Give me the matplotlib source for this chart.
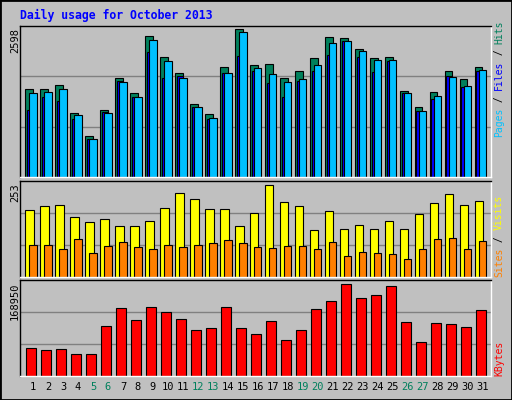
import matplotlib
matplotlib.use("Agg")
import matplotlib.pyplot as plt
from matplotlib.patches import Rectangle

days = list(range(1, 32))
weekend = [5, 6, 12, 13, 19, 20, 26, 27]

hits = [1540, 1540, 1611, 1134, 729, 1187, 1734, 1470, 2475, 2104, 1822, 1293, 1117, 1928, 2598, 1963,
        1981, 1734, 1857, 2087, 2457, 2439, 2245, 2087, 2104, 1511, 1240, 1487, 1857, 1716, 1928]
files = [1470, 1487, 1540, 1099, 676, 1134, 1663, 1416, 2404, 2034, 1734, 1223, 1046, 1822, 2545, 1910,
         1804, 1663, 1716, 1963, 2351, 2386, 2210, 2052, 2052, 1470, 1170, 1434, 1757, 1610, 1875]
pages = [1187, 1400, 1329, 1028, 676, 1152, 1681, 1400, 2192, 1734, 1769, 1240, 1028, 1822, 2122, 1857,
         1646, 1416, 1698, 1857, 2139, 2386, 2104, 1840, 2034, 1470, 1170, 1381, 1769, 1592, 1857]
visits = [184, 195, 198, 165, 151, 160, 141, 141, 154, 190, 231, 215, 187, 187, 141, 176,
          253, 206, 195, 130, 182, 133, 144, 133, 154, 133, 173, 203, 228, 198, 209]
sites = [89, 89, 78, 105, 66, 86, 97, 83, 78, 89, 83, 89, 94, 102, 94, 83,
         80, 86, 86, 78, 97, 58, 69, 66, 64, 50, 78, 105, 108, 78, 100]
kbytes = [50570, 46870, 48720, 41320, 41320, 91260, 124560, 102360, 126410, 117160, 104210, 83860,
          87560, 126410, 87560, 76460, 100510, 65360, 83860, 122710, 137500, 168950, 143060, 148610,
          164630, 98660, 61660, 96810, 94960, 89410, 120860]

BG = "#C0C0C0"
fig = plt.figure(figsize=(5.12, 4.0), dpi=100, facecolor=BG)
mono = "DejaVu Sans Mono"

def px_axes(x0, y0, x1, y1):
    return fig.add_axes([x0 / 512, 1 - y1 / 400, (x1 - x0) / 512, (y1 - y0) / 400])

def style(ax, top, maxlabel, ytop):
    ax.set_facecolor(BG)
    ax.set_xlim(0.13, 31.55)
    ax.set_ylim(0, top)
    for g in (top / 3, 2 * top / 3):
        ax.axhline(g, color="#808080", lw=1, zorder=0)
    ax.set_xticks([])
    ax.set_yticks([])
    for s in ax.spines.values():
        s.set_color("black")
        s.set_linewidth(1)
    ax.spines["bottom"].set_color("white")
    ax.spines["right"].set_color("white")
    fig.text(15 / 512, 1 - ytop / 400, maxlabel, rotation=90, rotation_mode="anchor",
             ha="right", va="center", family=mono, fontsize=7.5)

def bars(ax, vals, left, width, color):
    ax.bar([d + left for d in days], vals, width=width, align="edge", color=color,
           edgecolor="black", linewidth=0.8, zorder=2)

# top panel
ax1 = px_axes(20, 26, 491, 177)
style(ax1, 2657, "2598", 28)
bars(ax1, hits, -0.51, 0.49, "#00805C")
bars(ax1, pages, -0.42, 0.4, "#0000FF")
bars(ax1, files, -0.24, 0.48, "#00C0FF")

# middle panel
ax2 = px_axes(20, 181, 491, 277)
style(ax2, 264, "253", 183)
bars(ax2, visits, -0.51, 0.55, "#FFFF00")
bars(ax2, sites, -0.24, 0.48, "#FF8000")

# bottom panel
ax3 = px_axes(20, 280, 491, 376)
style(ax3, 176350, "168950", 282)
bars(ax3, kbytes, -0.44, 0.66, "#FF0000")

# day labels
for d in days:
    ax3.text(d, -0.06, str(d), transform=ax3.get_xaxis_transform(), ha="center", va="top",
             family=mono, fontsize=7.5, color="#00805C" if d in weekend else "black")

# title
fig.text(20 / 512, 1 - 15 / 400, "Daily usage for October 2013", color="#0000FF",
         family=mono, fontweight="bold", fontsize=8.3, va="center")

# right-side multicolour labels
FS = 7.0
def vlabel(pieces, x, ybottom):
    step = 0.6 * FS * 100 / 72
    y = ybottom
    for txt, col in pieces:
        fig.text(x / 512, 1 - y / 400, txt, rotation=90, rotation_mode="anchor", color=col,
                 family=mono, fontsize=FS, ha="left", va="center")
        y -= step * len(txt)

vlabel([("Pages", "#00C0FF"), (" / ", "black"), ("Files", "#0000FF"), (" / ", "black"),
        ("Hits", "#00805C")], 499, 137)
vlabel([("Sites", "#FF8000"), (" / ", "black"), ("Visits", "#FFFF00")], 499, 277)
vlabel([("KBytes", "#FF0000")], 499, 376)

fig.patches.append(Rectangle((0, 0), 1, 1, transform=fig.transFigure, fill=False,
                             edgecolor="black", linewidth=2))
fig.savefig("out.png", dpi=100, facecolor=BG)
